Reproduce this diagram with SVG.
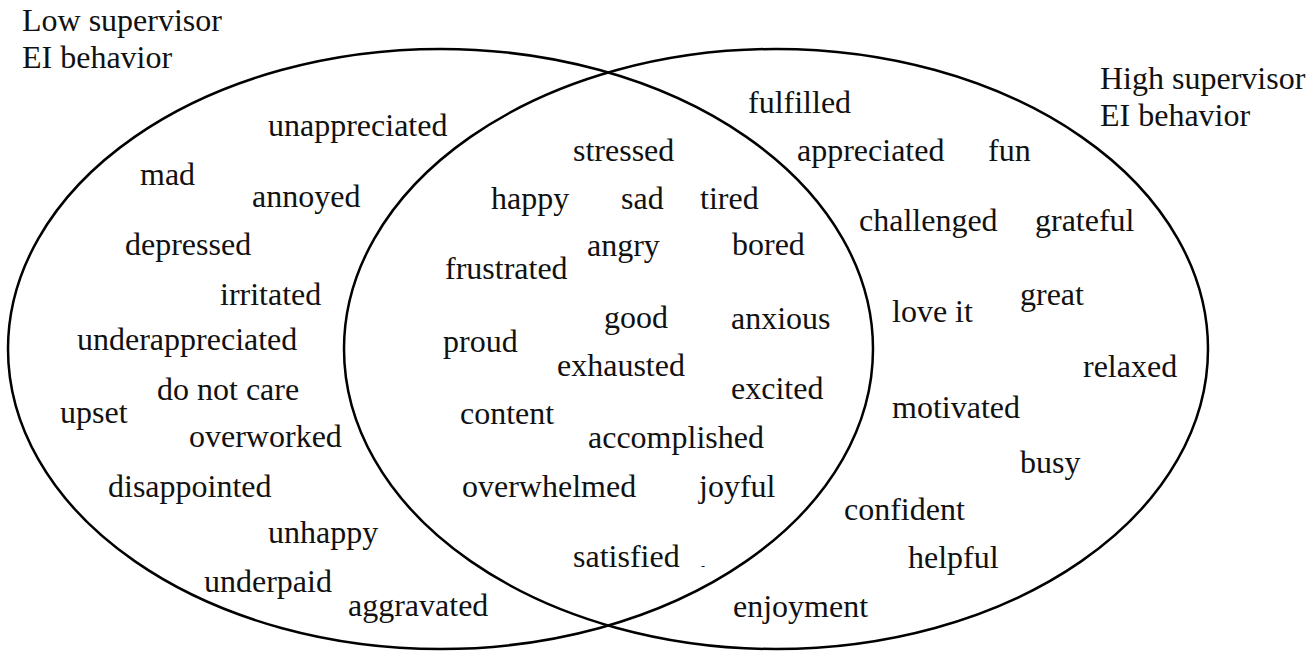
<svg xmlns="http://www.w3.org/2000/svg" width="1315" height="656" viewBox="0 0 1315 656">
<style>
text{font-family:"Liberation Serif","Times New Roman",serif;font-size:32px;fill:#111}
.c{fill:none;stroke:#000;stroke-width:2.5}
</style>
<rect width="1315" height="656" fill="#fff"/>
<g id="connectors"></g>
<g id="low-set">
<ellipse class="c" cx="440.5" cy="349" rx="432.5" ry="300"/>
<text x="22" y="31">Low supervisor</text>
<text x="22" y="68">EI behavior</text>
</g>
<g id="high-set">
<ellipse class="c" cx="776" cy="349" rx="432" ry="300"/>
<text x="1100" y="89">High supervisor</text>
<text x="1100" y="126">EI behavior</text>
</g>
<g id="low-words">
<text x="268" y="136">unappreciated</text>
<text x="140" y="185">mad</text>
<text x="252" y="207">annoyed</text>
<text x="125" y="255">depressed</text>
<text x="220" y="305">irritated</text>
<text x="77" y="350">underappreciated</text>
<text x="157" y="400">do not care</text>
<text x="60" y="423">upset</text>
<text x="189" y="447">overworked</text>
<text x="108" y="497">disappointed</text>
<text x="268" y="543">unhappy</text>
<text x="204" y="592">underpaid</text>
<text x="348" y="616">aggravated</text>
</g>
<g id="shared-words">
<text x="573" y="161">stressed</text>
<text x="491" y="209">happy</text>
<text x="621" y="209">sad</text>
<text x="700" y="209">tired</text>
<text x="587" y="256">angry</text>
<text x="732" y="255">bored</text>
<text x="445" y="279">frustrated</text>
<text x="604" y="328">good</text>
<text x="731" y="329">anxious</text>
<text x="443" y="352">proud</text>
<text x="557" y="376">exhausted</text>
<text x="731" y="399">excited</text>
<text x="460" y="424">content</text>
<text x="588" y="448">accomplished</text>
<text x="462" y="497">overwhelmed</text>
<text x="699" y="497">joyful</text>
<text x="573" y="567">satisfied</text>
<text x="701" y="570" style="font-size:12px">-</text>
</g>
<g id="high-words">
<text x="748" y="113">fulfilled</text>
<text x="797" y="161">appreciated</text>
<text x="988" y="161">fun</text>
<text x="859" y="231">challenged</text>
<text x="1035" y="231">grateful</text>
<text x="892" y="322">love it</text>
<text x="1020" y="305">great</text>
<text x="1083" y="377">relaxed</text>
<text x="892" y="418">motivated</text>
<text x="1020" y="473">busy</text>
<text x="844" y="520">confident</text>
<text x="908" y="568">helpful</text>
<text x="733" y="617">enjoyment</text>
</g>
</svg>
